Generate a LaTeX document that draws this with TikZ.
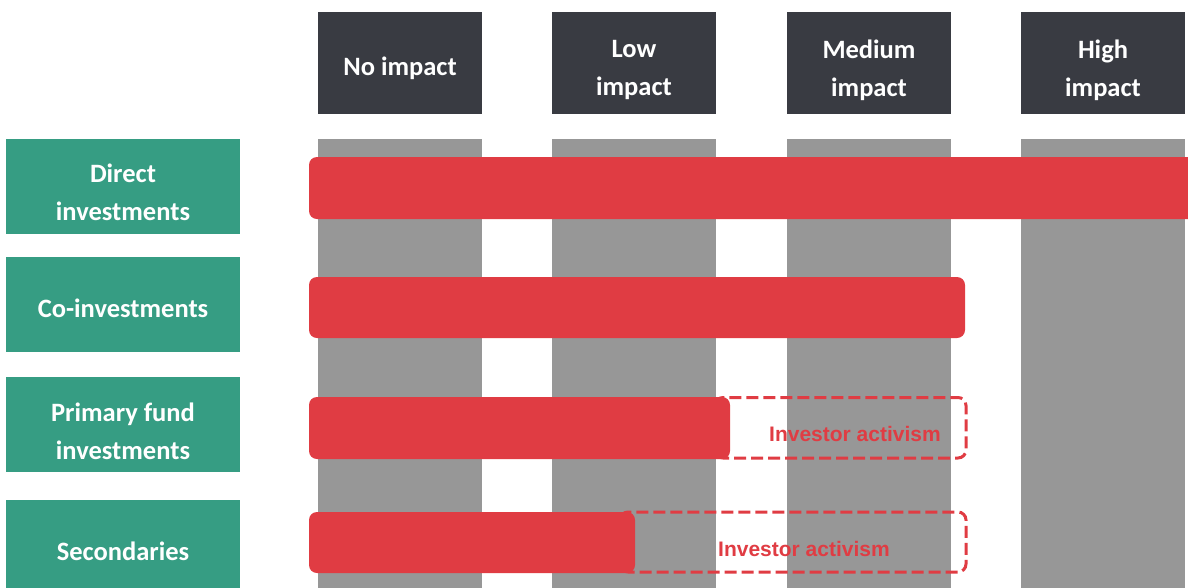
\documentclass[tikz,border=0pt]{standalone}
\usepackage{fontspec}
\setmainfont{Carlito}
\newfontfamily\notefont{Liberation Sans}
\definecolor{hdrgray}{HTML}{393B42}
\definecolor{colgray}{HTML}{979797}
\definecolor{barred}{HTML}{E03C43}
\definecolor{rowgreen}{HTML}{369D83}
\tikzset{
  hdr/.style={fill=hdrgray, minimum width=164pt, minimum height=102pt, inner sep=0pt},
  rowbox/.style={fill=rowgreen, minimum width=234pt, inner sep=0pt},
  boxtext/.style={text=white, font=\fontsize{26.5}{38}\selectfont\bfseries, align=center, inner sep=0pt},
  column/.style={fill=colgray},
  bar/.style={fill=barred, rounded corners=8pt},
  potential/.style={draw=barred, line width=3pt, dash pattern=on 12pt off 5pt, rounded corners=8pt},
  note/.style={text=barred, font=\notefont\fontsize{21}{24}\selectfont\bfseries, inner sep=0pt}
}
\begin{document}
\begin{tikzpicture}[x=1pt, y=-1pt]
\useasboundingbox (0,0) rectangle (1188,587);
\clip (0,0) rectangle (1188,587);

% impact columns
\foreach \xl in {318,552,787,1021} {
  \fill[column] (\xl,139) rectangle ++(164,460);
}

% column headers
\node[hdr] (h1) at (400,63) {};
\node[hdr] (h2) at (634,63) {};
\node[hdr] (h3) at (869,63) {};
\node[hdr] (h4) at (1103,63) {};
\node[boxtext] (t1) at ([yshift=-5pt]h1.center) {No impact};
\node[boxtext] (t2) at ([yshift=-7pt]h2.center) {Low\\impact};
\node[boxtext] (t3) at ([yshift=-7pt]h3.center) {Medium\\impact};
\node[boxtext] (t4) at ([yshift=-7pt]h4.center) {High\\impact};

% investment types
\node[rowbox, minimum height=95pt] (r1) at (123,186.5) {};
\node[rowbox, minimum height=95pt] (r2) at (123,304.5) {};
\node[rowbox, minimum height=95pt] (r3) at (123,424.5) {};
\node[rowbox, minimum height=104pt] (r4) at (123,552) {};
\node[boxtext] (s1) at ([yshift=-6pt]r1.center) {Direct\\investments};
\node[boxtext] (s2) at ([yshift=-4pt]r2.center) {Co-investments};
\node[boxtext] (s3) at ([yshift=-7pt]r3.center) {Primary fund\\investments};
\node[boxtext] (s4) at ([yshift=1pt]r4.center) {Secondaries};

% potential impact through investor activism
\draw[potential] (715,397.5) rectangle (966,458);
\draw[potential] (620,512) rectangle (966,572);

% impact bars
\fill[bar] (309,157) rectangle (1200,219);
\fill[bar] (309,277) rectangle (965,338);
\fill[bar] (309,397) rectangle (730,459);
\fill[bar] (309,512) rectangle (635,573);

\node[note] (n3) at (855,434) {Investor activism};
\node[note] (n4) at (804,549) {Investor activism};
\end{tikzpicture}
\end{document}
